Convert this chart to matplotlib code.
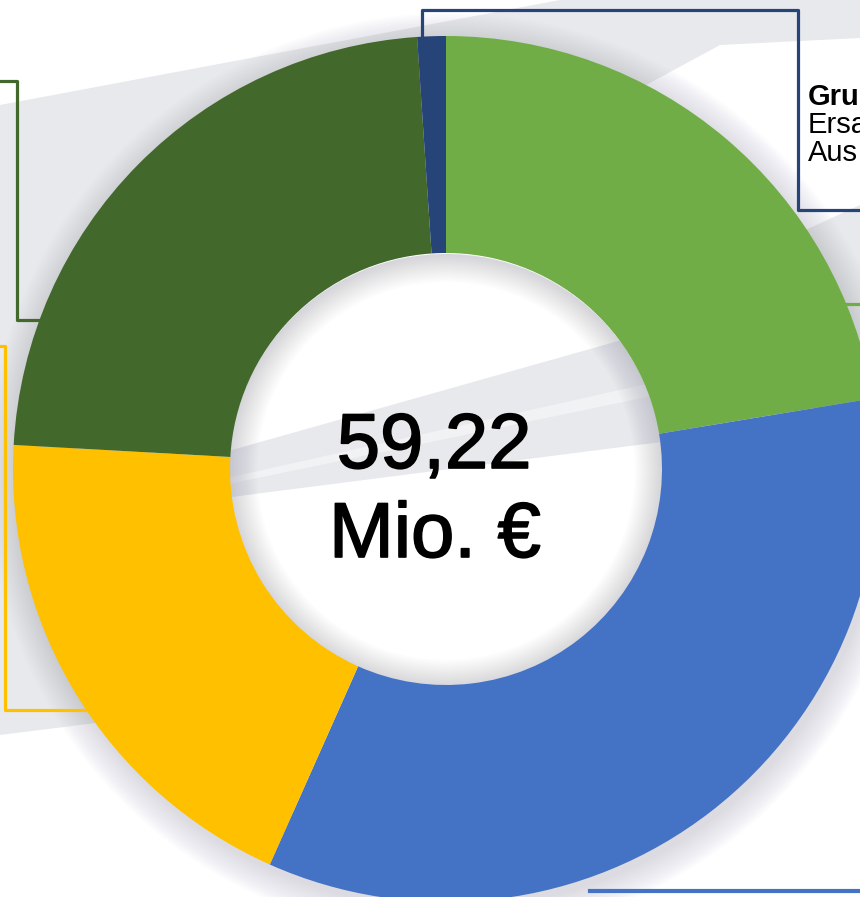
import matplotlib
matplotlib.use("Agg")
import matplotlib.pyplot as plt
import matplotlib.patheffects as pe
from matplotlib.patches import Polygon, Wedge

plt.rcParams['font.family'] = ['Liberation Sans', 'DejaVu Sans']

# Mio. Euro per segment, clockwise from 12 o'clock
segments = ["Segment A", "Segment B", "Segment C", "Segment D", "Segment E"]
values = [13.26, 20.30, 11.38, 13.65, 0.63]
colors = ["#70AD47", "#4472C4", "#FFC000", "#43682B", "#264478"]
total_label = ["59,22", "Mio. €"]
callout_text = ["Gru", "Ersa", "Aus"]

W, H = 860, 897
cx, cy = 446, 469      # donut centre in pixels
R, ring = 433, 217     # outer radius and ring width

fig = plt.figure(figsize=(W / 100, H / 100), dpi=100)
ax = fig.add_axes([0, 0, 1, 1])
fig.patch.set_facecolor("white")

# background: white with light grey diagonal areas
gray = "#E8E9ED"
bg_shapes = [
    [(0, 105), (560, 0), (860, 0), (860, 38), (720, 45), (250, 300),
     (120, 500), (120, 720), (0, 735)],
    [(740, 260), (860, 205), (860, 420), (780, 420)],
    [(200, 459), (700, 318), (700, 437), (200, 501)],
]
for pts in bg_shapes:
    ax.add_patch(Polygon(pts, closed=True, fc=gray, ec="none", zorder=0))
# faint light streak through the grey band in the hole
ax.add_patch(Polygon([(200, 484), (700, 372), (700, 386), (200, 490)], closed=True,
                     fc="#F1F2F4", ec="none", zorder=0))

# soft drop shadow outside the ring
for w in range(1, 30, 2):
    ax.add_patch(Wedge((cx + 3, cy + 6), R + w, 0, 360, width=w + 60,
                       fc="#707080", ec="none", alpha=0.016, zorder=1))
# shadow inside the hole
for w in range(2, 30, 2):
    ax.add_patch(Wedge((cx, cy + 2), R - ring + 1, 0, 360, width=w,
                       fc="#707080", ec="none", alpha=0.02, zorder=1))

# y axis is inverted, so counterclock in data = clockwise on screen
ax.pie(values, colors=colors, startangle=-90, counterclock=True,
       center=(cx, cy), radius=R,
       wedgeprops=dict(width=ring, edgecolor="none", zorder=3))

ax.set_xlim(0, W)
ax.set_ylim(H, 0)
ax.set_aspect("equal")
ax.axis("off")

# callout leader lines
lw = 2.3
ax.plot([422, 422, 798, 798, 860], [37, 10, 10, 210, 210], color="#264478", lw=lw, zorder=2)
ax.plot([0, 17, 17, 40], [81, 81, 320, 320], color="#43682B", lw=lw, zorder=2)
ax.plot([0, 5, 5, 85], [346, 346, 710, 710], color="#FFC000", lw=lw, zorder=2)
ax.plot([845, 860], [304, 304], color="#70AD47", lw=lw, zorder=2)
ax.plot([590, 860], [891, 891], color="#4472C4", lw=3, zorder=2)

# callout text (cut off at the right edge, as in the source)
ax.text(808, 105, callout_text[0], fontsize=21, fontweight="bold", va="baseline", zorder=5)
ax.text(808, 133, callout_text[1], fontsize=21, va="baseline", zorder=5)
ax.text(808, 161, callout_text[2], fontsize=21, va="baseline", zorder=5)

# total in the centre
thick = [pe.withStroke(linewidth=1.2, foreground="black")]
ax.text(434, 468, total_label[0], fontsize=56, ha="center", va="baseline",
        zorder=5, path_effects=thick)
ax.text(435, 557, total_label[1], fontsize=56, ha="center", va="baseline",
        zorder=5, path_effects=thick)

fig.savefig("out.png", dpi=100)
